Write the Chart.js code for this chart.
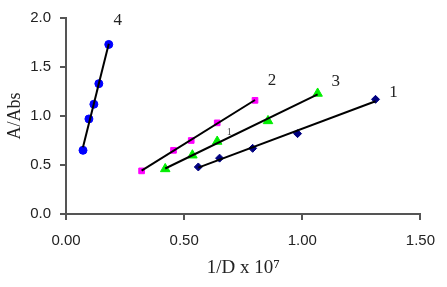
<!DOCTYPE html>
<html>
<head>
<meta charset="utf-8">
<script src="https://cdn.jsdelivr.net/npm/chart.js@4.4.0/dist/chart.umd.min.js"></script>
<style>
  html, body { margin: 0; padding: 0; background: #fff; }
  #wrap { width: 447px; height: 287px; }
</style>
</head>
<body>
<div id="wrap"><canvas id="chart" width="447" height="287"></canvas></div>
<script>
// series data (x = 1/D x 10^7, y = A/Abs)
const s1x = [0.56, 0.65, 0.79, 0.98, 1.31];
const s1y = [0.48, 0.57, 0.67, 0.82, 1.17];
const s2x = [0.32, 0.455, 0.53, 0.64, 0.80];
const s2y = [0.44, 0.65, 0.75, 0.93, 1.16];
const s3x = [0.42, 0.535, 0.64, 0.855, 1.065];
const s3y = [0.46, 0.60, 0.74, 0.95, 1.23];
const s4x = [0.072, 0.097, 0.118, 0.139, 0.181];
const s4y = [0.65, 0.97, 1.12, 1.33, 1.73];
const seriesNames = ['1', '2', '3', '4'];
const xTicks = [0, 0.5, 1.0, 1.5];
const yTicks = [0, 0.5, 1.0, 1.5, 2.0];

function pts(xs, ys) {
  return xs.map((x, i) => ({ x: x, y: ys[i] }));
}

// least squares trend line between first and last x
function trend(xs, ys) {
  const n = xs.length;
  const mx = xs.reduce((a, b) => a + b, 0) / n;
  const my = ys.reduce((a, b) => a + b, 0) / n;
  let sxy = 0, sxx = 0;
  for (let i = 0; i < n; i++) {
    sxy += (xs[i] - mx) * (ys[i] - my);
    sxx += (xs[i] - mx) * (xs[i] - mx);
  }
  const m = sxy / sxx, b = my - m * mx;
  const x0 = Math.min(...xs), x1 = Math.max(...xs);
  return [{ x: x0, y: m * x0 + b }, { x: x1, y: m * x1 + b }];
}

function lineSet(xs, ys) {
  return {
    type: 'line', data: trend(xs, ys), borderColor: '#000', borderWidth: 2,
    pointRadius: 0, showLine: true, fill: false
  };
}

function pointSet(xs, ys, style, color, r) {
  return {
    type: 'scatter', data: pts(xs, ys), pointStyle: style,
    backgroundColor: color, borderColor: color, pointRadius: r, borderWidth: 1
  };
}

// series numbers next to the last point of each series
const labelPlugin = {
  id: 'seriesLabels',
  afterDatasetsDraw(chart) {
    const ctx = chart.ctx;
    const xs = chart.scales.x, ys = chart.scales.y;
    const lasts = [[s1x, s1y, 18, -7], [s2x, s2y, 17, -20], [s3x, s3y, 18, -12], [s4x, s4y, 9, -24]];
    ctx.save();
    ctx.font = '17px "Liberation Serif", serif';
    ctx.fillStyle = '#222';
    ctx.textAlign = 'center';
    ctx.textBaseline = 'middle';
    lasts.forEach((l, i) => {
      const k = l[0].length - 1;
      ctx.fillText(seriesNames[i], xs.getPixelForValue(l[0][k]) + l[2], ys.getPixelForValue(l[1][k]) + l[3]);
    });
    // small stray "1" that sits on line 3 in the original
    ctx.font = '10px "Liberation Serif", serif';
    ctx.fillStyle = '#444';
    ctx.fillText('1', xs.getPixelForValue(s3x[2]) + 12, ys.getPixelForValue(s3y[2]) - 9);
    ctx.restore();
  }
};

new Chart(document.getElementById('chart').getContext('2d'), {
  type: 'scatter',
  data: {
    datasets: [
      lineSet(s1x, s1y), lineSet(s2x, s2y), lineSet(s3x, s3y), lineSet(s4x, s4y),
      pointSet(s1x, s1y, 'rectRot', '#000080', 4),
      pointSet(s2x, s2y, 'rect', '#ff00ff', 4),
      pointSet(s3x, s3y, 'triangle', '#00ee00', 5.5),
      pointSet(s4x, s4y, 'circle', '#0000ff', 4)
    ]
  },
  options: {
    responsive: false,
    animation: false,
    layout: { padding: { top: 13, right: 23, left: 0, bottom: 0 } },
    plugins: { legend: { display: false }, tooltip: { enabled: false } },
    scales: {
      x: {
        type: 'linear', min: 0, max: 1.5,
        afterBuildTicks: s => { s.ticks = xTicks.map(v => ({ value: v })); },
        afterFit: s => { s.height = 73; },
        grid: { drawOnChartArea: false, drawTicks: true, tickLength: 6, color: '#555', lineWidth: 2 },
        border: { display: true, color: '#555', width: 2 },
        ticks: { color: '#222', font: { family: '"Liberation Sans", Arial', size: 15 }, padding: 12, maxRotation: 0,
          callback: v => v.toFixed(2) },
        title: { display: true, text: '1/D x 10\u2077', color: '#222',
          font: { family: '"Liberation Serif", serif', size: 19 }, padding: { top: 0, bottom: 8 } }
      },
      y: {
        type: 'linear', min: 0, max: 2,
        afterBuildTicks: s => { s.ticks = yTicks.map(v => ({ value: v })); },
        afterFit: s => { s.width = 66; },
        grid: { drawOnChartArea: false, drawTicks: true, tickLength: 6, color: '#555', lineWidth: 2 },
        border: { display: true, color: '#555', width: 2 },
        ticks: { color: '#222', font: { family: '"Liberation Sans", Arial', size: 15 }, padding: 9,
          callback: v => v.toFixed(1) },
        title: { display: true, text: 'A/Abs', color: '#222',
          font: { family: '"Liberation Serif", serif', size: 18 }, padding: { top: 4, bottom: 0 } }
      }
    }
  },
  plugins: [labelPlugin]
});
</script>
</body>
</html>
